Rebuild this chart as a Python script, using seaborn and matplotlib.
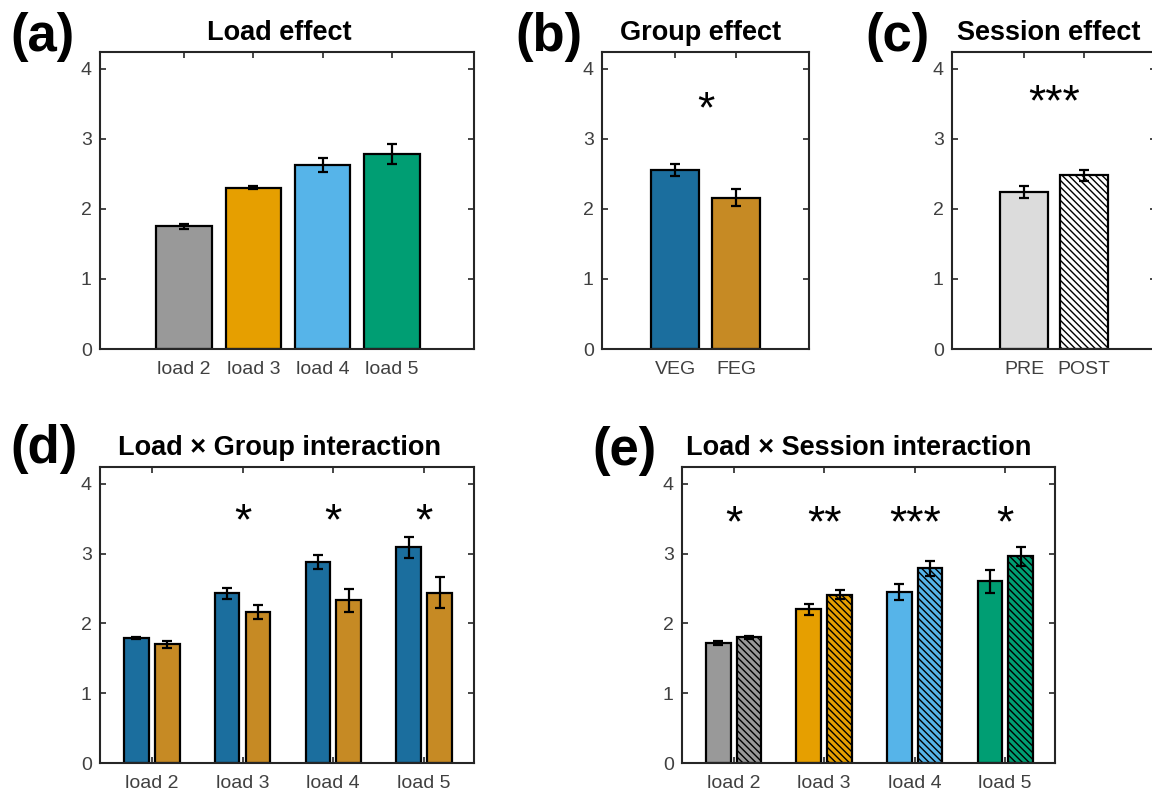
import numpy as np
import pandas as pd
import matplotlib
matplotlib.use('Agg')
import matplotlib.pyplot as plt
import seaborn as sns

# ---- data ----
loads = ['load 2', 'load 3', 'load 4', 'load 5']
load_colors = ['#999999', '#E69F00', '#56B4E9', '#009E73']

load_mean = [1.75, 2.30, 2.62, 2.78]
load_err = [0.03, 0.02, 0.10, 0.14]

groups = ['VEG', 'FEG']
group_colors = ['#1B6E9E', '#C68A24']
group_mean = [2.55, 2.16]
group_err = [0.085, 0.12]

sessions = ['PRE', 'POST']
session_mean = [2.24, 2.48]
session_err = [0.09, 0.08]

veg_by_load = [1.79, 2.43, 2.88, 3.09]
veg_by_load_err = [0.02, 0.075, 0.10, 0.15]
feg_by_load = [1.70, 2.16, 2.33, 2.44]
feg_by_load_err = [0.05, 0.10, 0.16, 0.22]

pre_by_load = [1.72, 2.20, 2.45, 2.60]
pre_by_load_err = [0.03, 0.08, 0.12, 0.16]
post_by_load = [1.80, 2.41, 2.79, 2.96]
post_by_load_err = [0.025, 0.065, 0.11, 0.14]

stars_b = ['*']
stars_c = ['***']
stars_d = ['', '*', '*', '*']
stars_e = ['*', '**', '***', '*']

sns.set_theme(style='ticks')
plt.rcParams['font.family'] = ['Liberation Sans', 'DejaVu Sans']
plt.rcParams['hatch.linewidth'] = 1.0
plt.rcParams['hatch.color'] = 'black'

SPINE = '#262626'
TICKC = '#404040'
HATCH = '\\' * 5


def style_axes(ax, xlim):
    ax.set_xlim(*xlim)
    ax.set_ylim(0, 4.24)
    ax.set_yticks([0, 1, 2, 3, 4])
    ax.set_xlabel('')
    ax.set_ylabel('')
    for s in ax.spines.values():
        s.set_visible(True)
        s.set_color(SPINE)
        s.set_linewidth(1.5)
    ax.tick_params(axis='both', direction='in', length=4, width=1.2,
                   color=SPINE, labelcolor=TICKC, labelsize=14,
                   top=True, right=True)
    ax.tick_params(axis='x', pad=9)
    ax.tick_params(axis='y', pad=6)


def add_errors(ax, patches, errs):
    xs = [p.get_x() + p.get_width() / 2 for p in patches]
    ys = [p.get_height() for p in patches]
    ax.errorbar(xs, ys, yerr=errs, fmt='none', ecolor='black',
                elinewidth=1.6, capsize=3.5, capthick=1.6, zorder=5)


def add_stars(ax, xs, labels, y):
    for x, lab in zip(xs, labels):
        if lab:
            ax.text(x, y, lab, ha='center', va='baseline', fontsize=32,
                    color='black')


fig = plt.figure(figsize=(11.52, 7.95), dpi=100)
W, H = 1152, 795


def make_ax(l, r, t, b):
    return fig.add_axes([l / W, 1 - b / H, (r - l) / W, (b - t) / H])


ax_a = make_ax(100, 474, 52, 349)
ax_b = make_ax(602, 809, 52, 349)
ax_c = make_ax(952, 1156, 52, 349)
ax_d = make_ax(100, 474, 467, 763)
ax_e = make_ax(682, 1055, 467, 763)

title_kw = dict(fontsize=19.5, fontweight='bold', color='black', pad=9)
bar_kw = dict(edgecolor='black', linewidth=1.6, errorbar=None,
              saturation=1, legend=False)

# (a) load effect
df_a = pd.DataFrame({'load': loads, 'value': load_mean})
sns.barplot(data=df_a, x='load', y='value', hue='load', palette=load_colors,
            width=0.8, ax=ax_a, **bar_kw)
add_errors(ax_a, ax_a.patches, load_err)
style_axes(ax_a, (-1.21, 4.18))
ax_a.set_title('Load effect', x=0.48, **title_kw)

# (b) group effect
df_b = pd.DataFrame({'group': groups, 'value': group_mean})
sns.barplot(data=df_b, x='group', y='value', hue='group', palette=group_colors,
            width=0.8, ax=ax_b, **bar_kw)
add_errors(ax_b, ax_b.patches, group_err)
style_axes(ax_b, (-1.2, 2.2))
add_stars(ax_b, [0.5], stars_b, 3.24)
ax_b.set_title('Group effect', x=0.475, **title_kw)

# (c) session effect
df_c = pd.DataFrame({'session': sessions, 'value': session_mean})
sns.barplot(data=df_c, x='session', y='value', hue='session',
            palette=['#DCDCDC', 'white'], width=0.8, ax=ax_c, **bar_kw)
ax_c.patches[1].set_hatch(HATCH)
add_errors(ax_c, ax_c.patches, session_err)
style_axes(ax_c, (-1.2, 2.2))
add_stars(ax_c, [0.5], stars_c, 3.34)
ax_c.set_title('Session effect', x=0.475, **title_kw)

# (d) load x group
df_d = pd.DataFrame({
    'load': loads * 2,
    'group': ['VEG'] * 4 + ['FEG'] * 4,
    'value': veg_by_load + feg_by_load,
})
sns.barplot(data=df_d, x='load', y='value', hue='group', hue_order=groups,
            palette=group_colors, width=0.68, gap=0.2, ax=ax_d, **bar_kw)
add_errors(ax_d, ax_d.patches, veg_by_load_err + feg_by_load_err)
style_axes(ax_d, (-0.57, 3.55))
add_stars(ax_d, range(4), stars_d, 3.27)
ax_d.set_title('Load \u00d7 Group interaction', x=0.48, **title_kw)

# (e) load x session
df_e = pd.DataFrame({
    'load': loads * 2,
    'session': ['PRE'] * 4 + ['POST'] * 4,
    'value': pre_by_load + post_by_load,
})
sns.barplot(data=df_e, x='load', y='value', hue='session', hue_order=sessions,
            palette=['white', 'white'], width=0.68, gap=0.2, ax=ax_e, **bar_kw)
for i, p in enumerate(ax_e.patches):
    p.set_facecolor(load_colors[i % 4])
    if i >= 4:
        p.set_hatch(HATCH)
add_errors(ax_e, ax_e.patches, pre_by_load_err + post_by_load_err)
style_axes(ax_e, (-0.57, 3.55))
add_stars(ax_e, range(4), stars_e, 3.25)
ax_e.set_title('Load \u00d7 Session interaction', x=0.475, **title_kw)

# panel letters
for lab, x, y in [('(a)', 10, 12), ('(b)', 515, 12), ('(c)', 865, 12),
                  ('(d)', 10, 424), ('(e)', 592, 426)]:
    fig.text(x / W, 1 - y / H, lab, fontsize=38, fontweight='bold',
             color='black', ha='left', va='top')

fig.savefig('out.png', dpi=100, facecolor='white')
